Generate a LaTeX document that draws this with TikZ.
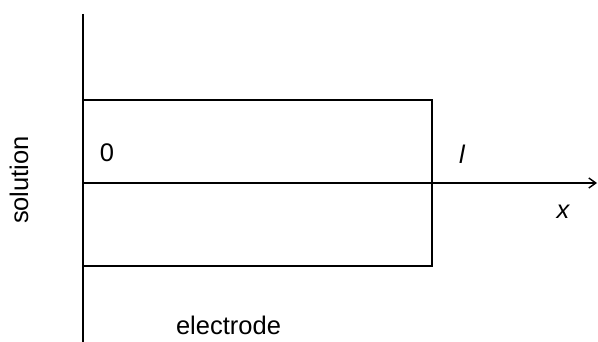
\documentclass[tikz,border=0pt]{standalone}
\usepackage{fontspec}
\setmainfont{Liberation Sans}
\usetikzlibrary{arrows.meta}
\begin{document}
\begin{tikzpicture}[x=1pt,y=-1pt,
  lbl/.style={inner sep=0pt,font=\fontsize{25.5}{30}\selectfont},
  ln/.style={line width=1.4pt,black}]
\useasboundingbox (0,0) rectangle (598,342);
\coordinate (vtop) at (83,14);
\coordinate (vbot) at (83,342);
\coordinate (rtl) at (83,100);
\coordinate (rbr) at (432,266);
\coordinate (ax0) at (83,183);
\coordinate (ax1) at (597,183);
\draw[ln] (vtop) -- (vbot);
\draw[ln] (rtl) rectangle (rbr);
\draw[ln,-{Straight Barb[length=7pt,width=10pt]}] (ax0) -- (ax1);
\node[lbl] (zero) at (107,153) {0};
\node[lbl] (ell) at (462,154.5) {\itshape l};
\node[lbl] (xx) at (563,212) {\itshape x};
\node[lbl,rotate=90] (sol) at (19,180) {solution};
\node[lbl] (elec) at (228.5,325) {electrode};
\end{tikzpicture}
\end{document}
